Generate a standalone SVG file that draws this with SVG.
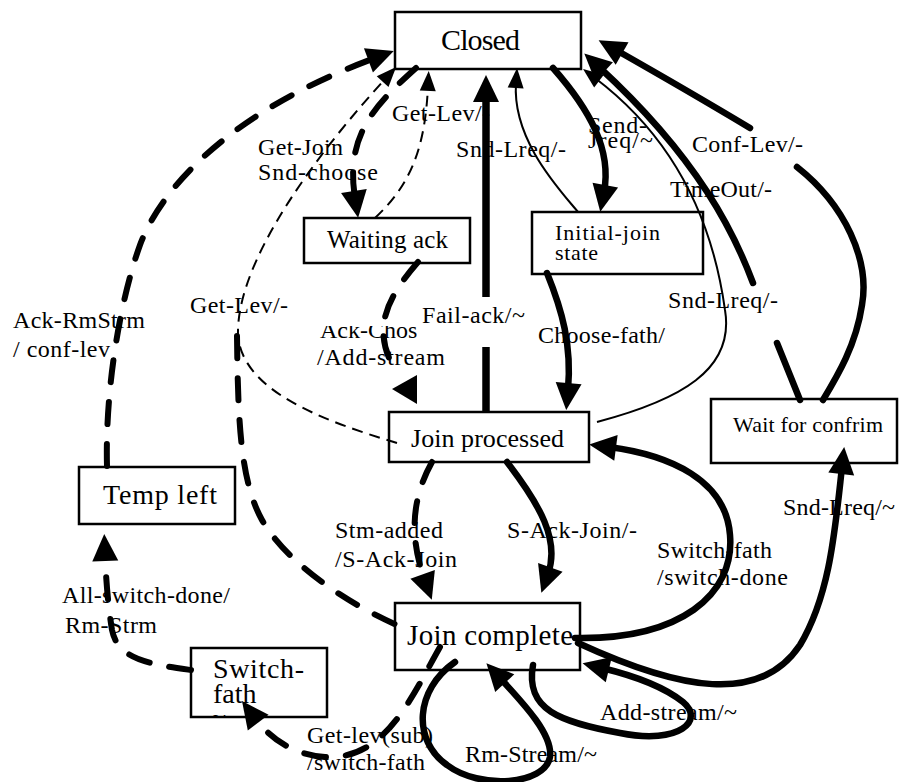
<svg xmlns="http://www.w3.org/2000/svg" width="906" height="782" viewBox="0 0 906 782">
  <style>
    .box{fill:#fff;stroke:#000;stroke-width:2.5}
    .nt{font-family:"Liberation Serif","Tinos","Times New Roman","DejaVu Serif","Noto Serif",serif;fill:#000}
    .lb{font-family:"Liberation Serif","Tinos","Times New Roman","DejaVu Serif","Noto Serif",serif;font-size:24px;fill:#000}
    .thick{fill:none;stroke:#000;stroke-width:6.5;stroke-linecap:round}
    .thin{fill:none;stroke:#000;stroke-width:2}
    .tdash{fill:none;stroke:#000;stroke-width:6;stroke-dasharray:22 20;stroke-linecap:round}
    .ndash{fill:none;stroke:#000;stroke-width:2;stroke-dasharray:11 7}
  </style>
  <defs>
    <marker id="big" markerUnits="userSpaceOnUse" markerWidth="27" markerHeight="26" refX="7" refY="13" orient="auto" overflow="visible">
      <path d="M0,0 L27,13 L0,26 z" fill="#000" stroke="none"/>
    </marker>
    <marker id="small" markerUnits="userSpaceOnUse" markerWidth="20" markerHeight="16" refX="5" refY="8" orient="auto" overflow="visible">
      <path d="M0,0 L20,8 L0,16 z" fill="#000" stroke="none"/>
    </marker>
    <clipPath id="ackClip"><rect x="300" y="326" width="117" height="30"/></clipPath>
    <clipPath id="swClip"><rect x="191" y="648" width="136" height="68"/></clipPath>
  </defs>

  <rect width="906" height="782" fill="#fff"/>

  <!-- states -->
  <g id="closed">
    <rect class="box" x="395" y="12" width="186" height="57"/>
    <text class="nt" x="441" y="50" font-size="30" textLength="79">Closed</text>
  </g>
  <g id="waiting-ack">
    <rect class="box" x="304" y="218" width="166" height="45"/>
    <text class="nt" x="327" y="248" font-size="25" textLength="121">Waiting ack</text>
  </g>
  <g id="initial-join">
    <rect class="box" x="532" y="212" width="171" height="62"/>
    <text class="nt" x="555" y="240" font-size="22" textLength="105">Initial-join</text>
    <text class="nt" x="555" y="260" font-size="22" textLength="43">state</text>
  </g>
  <g id="join-processed">
    <rect class="box" x="389" y="412" width="200" height="50"/>
    <text class="nt" x="411" y="447" font-size="26" textLength="153">Join processed</text>
  </g>
  <g id="wait-confirm">
    <rect class="box" x="711" y="399" width="186" height="64"/>
    <text class="nt" x="733" y="432" font-size="22" textLength="150">Wait for confrim</text>
  </g>
  <g id="temp-left">
    <rect class="box" x="79" y="467" width="156" height="57"/>
    <text class="nt" x="103" y="504" font-size="28" textLength="114">Temp left</text>
  </g>
  <g id="join-complete">
    <rect class="box" x="395" y="603" width="185" height="67"/>
    <text class="nt" x="407" y="645" font-size="29" textLength="166">Join complete</text>
  </g>
  <g id="switch-fath">
    <rect class="box" x="191" y="648" width="136" height="69"/>
    <text class="nt" x="213" y="678" font-size="28" textLength="91">Switch-</text>
    <text class="nt" x="213" y="703" font-size="28">fath</text>
    <text class="nt" x="211" y="726" font-size="28" clip-path="url(#swClip)">~</text>
  </g>

  <!-- transition labels -->
  <g id="labels" class="lb">
    <text x="392" y="121" textLength="98">Get-Lev/-</text>
    <text x="258" y="155" textLength="85">Get-Join</text>
    <text x="258" y="180" textLength="120">Snd-choose</text>
    <text x="456" y="157" textLength="110">Snd-Lreq/-</text>
    <text x="588" y="133" textLength="59">Send-</text>
    <text x="588" y="148" textLength="65">Jreq/~</text>
    <text x="692" y="152" textLength="111">Conf-Lev/-</text>
    <text x="670" y="197" textLength="102">TimeOut/-</text>
    <text x="668" y="308" textLength="110">Snd-Lreq/-</text>
    <text x="13" y="328" textLength="132">Ack-RmStrm</text>
    <text x="13" y="357" textLength="97">/ conf-lev</text>
    <text x="190" y="313" textLength="98">Get-Lev/-</text>
    <text x="320" y="338" clip-path="url(#ackClip)">Ack-Chos</text>
    <text x="317" y="365" textLength="128">/Add-stream</text>
    <text x="422" y="323" textLength="103">Fail-ack/~</text>
    <text x="538" y="343" textLength="127">Choose-fath/</text>
    <text x="335" y="538" textLength="108">Stm-added</text>
    <text x="335" y="567" textLength="122">/S-Ack-Join</text>
    <text x="507" y="538" textLength="130">S-Ack-Join/-</text>
    <text x="657" y="558" textLength="115">Switch-fath</text>
    <text x="657" y="585" textLength="131">/switch-done</text>
    <text x="783" y="515" textLength="112">Snd-Lreq/~</text>
    <text x="62" y="603" textLength="168">All-switch-done/</text>
    <text x="65" y="633" textLength="92">Rm-Strm</text>
    <text x="307" y="743" textLength="126">Get-lev(sub)</text>
    <text x="307" y="770" textLength="118">/switch-fath</text>
    <text x="465" y="762" textLength="132">Rm-Stream/~</text>
    <text x="600" y="720" textLength="137">Add-stream/~</text>
  </g>

  <!-- transitions -->
  <g id="connectors">
    <!-- Temp left -> Closed -->
    <path class="tdash" d="M107,466 C105,390 120,300 140,245 C158,196 220,115 375,58" marker-end="url(#big)"/>
    <!-- Closed -> Waiting ack -->
    <path class="tdash" d="M416,68 C375,105 345,135 355,198" marker-end="url(#big)"/>
    <!-- Waiting ack -> Closed -->
    <path class="ndash" d="M375,218 C410,185 425,150 428,86" marker-end="url(#small)"/>
    <!-- Join processed / Join complete -> Closed (Get-Lev) -->
    <path class="ndash" d="M397,443 C320,420 242,390 238,335 C236,260 320,150 386,78" marker-end="url(#small)"/>
    <path class="tdash" d="M237,336 C238,420 240,480 262,520 C285,560 340,600 397,625"/>
    <!-- Join processed -> Closed (Fail-ack) -->
    <path class="thick" style="stroke-width:7.5;stroke-linecap:butt" d="M486,412 L486,347"/>
    <path class="thick" style="stroke-width:7.5;stroke-linecap:butt" d="M486,297 L486,95" marker-end="url(#big)"/>
    <!-- Closed -> Initial-join -->
    <path class="thick" d="M553,68 C590,110 612,150 604,192" marker-end="url(#big)"/>
    <!-- Initial-join -> Closed -->
    <path class="thin" d="M578,212 C560,190 512,140 516,83" marker-end="url(#small)"/>
    <!-- Join processed -> Closed -->
    <path class="thin" d="M597,422 C680,400 735,370 725,310 C716,245 690,150 595,78" marker-end="url(#small)"/>
    <!-- Wait for confirm -> Closed (TimeOut / Snd-Lreq) -->
    <path class="thick" d="M753,283 C735,235 700,160 599,67" marker-end="url(#big)"/>
    <path class="thick" d="M800,400 L777,343"/>
    <!-- Wait for confirm -> Closed (Conf-Lev) -->
    <path class="thick" d="M750,128 Q690,92 616,50" marker-end="url(#big)"/>
    <path class="thick" d="M797,167 C845,205 870,260 862,305 C856,345 838,375 823,400"/>
    <!-- Initial-join -> Join processed -->
    <path class="thick" d="M547,273 C562,310 572,345 568,390" marker-end="url(#big)"/>
    <!-- Waiting ack -> Join processed -->
    <path class="tdash" d="M418,262 C385,300 372,330 395,370"/>
    <polygon points="392,389 417,375 417,404" fill="#000"/>
    <!-- Join processed -> Join complete -->
    <path class="tdash" d="M432,462 C408,505 412,545 425,581" marker-end="url(#big)"/>
    <path class="thick" d="M507,462 C540,505 560,540 548,574" marker-end="url(#big)"/>
    <!-- Join complete -> Join processed -->
    <path class="thick" d="M575,638 C680,640 735,595 730,535 C726,480 670,455 609,447" marker-end="url(#big)"/>
    <!-- Join complete -> Wait for confirm -->
    <path class="thick" d="M578,643 C680,690 760,705 800,645 C830,595 835,530 842,467" marker-end="url(#big)"/>
    <!-- Join complete self loops -->
    <path class="thick" d="M533,665 C525,710 560,722 620,733 C680,745 705,720 683,702 C663,686 635,676 602,668" marker-end="url(#big)"/>
    <path class="thick" d="M455,662 C415,690 412,740 447,765 C480,790 545,785 550,757 C553,735 525,705 500,678" marker-end="url(#big)"/>
    <!-- Join complete -> Switch-fath -->
    <path class="tdash" d="M440,647 C410,700 385,760 325,757 C300,755 275,745 254,717" marker-end="url(#big)"/>
    <!-- Switch-fath -> Temp left -->
    <path class="tdash" d="M191,670 C150,664 118,660 112,630 C108,605 106,580 105,554" marker-end="url(#big)"/>
  </g>
</svg>
